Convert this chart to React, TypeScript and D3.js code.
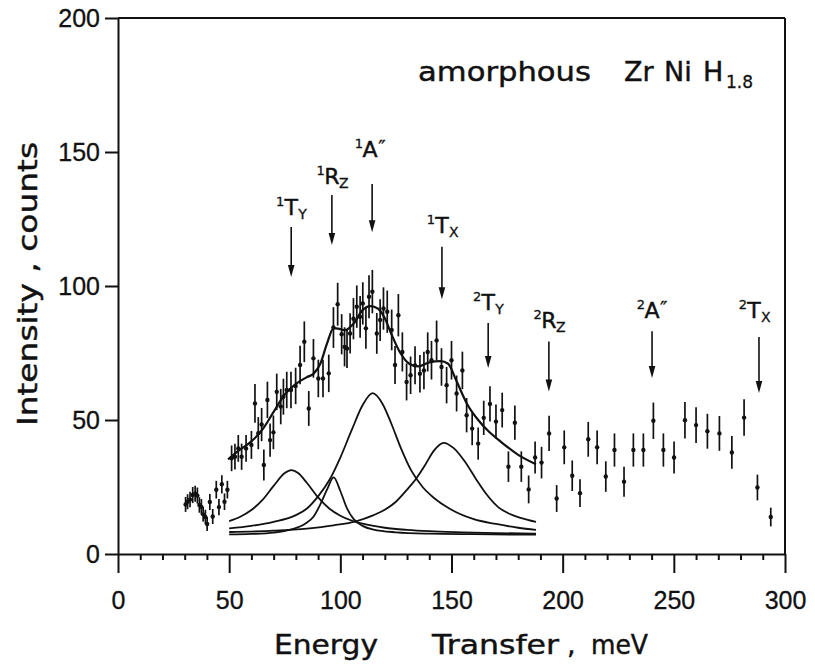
import React, { useRef, useEffect } from 'react';
import * as d3 from 'd3';

const energy = [
  30.4, 31.3, 32.4, 33.6, 34.7, 35.7, 36.6, 37.5, 38.3, 39.3, 40.1, 41.3, 42.6, 44.2, 45.4, 46.7, 47.9, 49.2,
  51.1, 52.6, 54.1, 55.6, 57.6, 60.0, 61.6, 63.1, 64.6, 65.6, 67.2, 68.4, 69.9, 71.4, 73.2, 74.4, 75.9, 77.8,
  79.9, 81.9, 83.8, 85.8, 87.9, 90.1, 92.2, 94.8, 96.9, 98.8, 100.6, 101.9, 103.0, 104.4, 105.9, 107.4, 108.9,
  110.1, 111.5, 112.9, 114.4, 116.4, 117.9, 119.4, 121.1, 123.1, 124.6, 126.1, 127.9, 129.8, 131.6, 133.6, 135.8,
  137.6, 139.3, 141.0, 143.3, 145.5, 147.8, 150.0, 152.3, 154.9, 156.8, 159.3, 162.0, 164.5, 167.3, 170.0, 172.8,
  175.6, 178.5, 181.4, 184.7, 187.6, 190.5, 193.9, 197.3, 200.7, 204.3, 207.8, 211.5, 215.5, 219.4, 223.3, 227.6,
  231.8, 236.3, 240.8, 245.3, 250.1, 255.0, 260.0, 265.1, 270.5, 276.1, 281.6, 287.6, 293.6
];
const counts = [
  18.5, 19.5, 20.3, 22.0, 22.5, 21.8, 18.3, 17.6, 14.8, 13.8, 11.2, 19.4, 14.0, 24.0, 17.5, 26.0, 19.5, 24.0,
  35.7, 36.3, 39.4, 36.3, 39.4, 40.7, 56.2, 45.1, 48.3, 33.2, 57.5, 42.5, 45.4, 60.5, 55.0, 58.7, 61.2, 61.2,
  62.7, 70.5, 79.2, 54.3, 73.0, 65.5, 65.5, 67.4, 84.5, 93.2, 82.0, 77.3, 76.7, 82.3, 87.8, 92.3, 88.5,
  93.5, 84.2, 96.0, 97.9, 82.3, 87.3, 91.6, 90.4, 83.6, 70.5, 89.1, 75.4, 64.2, 66.7, 70.4, 67.3,
  68.5, 75.4, 72.3, 79.7, 69.8, 63.0, 72.3, 59.9, 68.5, 51.8, 46.8, 41.2, 50.8, 56.0, 49.4, 53.7,
  32.6, 49.0, 32.6, 24.1, 36.0, 34.1, 45.0, 20.7, 39.8, 29.2, 22.7, 42.8, 39.8, 28.9, 38.8, 27.0,
  38.8, 38.8, 49.7, 38.8, 36.0, 49.9, 48.1, 45.8, 45.0, 37.9, 50.9, 24.8, 13.8
];
const errors = [
  2.8, 2.8, 2.9, 3.0, 3.0, 3.0, 2.9, 2.9, 2.7, 2.7, 2.6, 3.0, 2.8, 3.3, 3.0, 3.4, 3.1, 3.3,
  4.8, 4.8, 5.0, 4.9, 5.0, 5.2, 7.2, 6.0, 6.2, 5.8, 6.8, 6.2, 6.3, 6.8, 6.6, 6.7, 6.8, 6.8,
  6.8, 7.2, 7.6, 6.5, 7.2, 7.0, 7.0, 7.0, 7.6, 8.0, 7.5, 7.3, 7.3, 7.5, 7.7, 7.9, 7.8,
  7.9, 7.6, 8.0, 8.1, 7.6, 7.8, 7.9, 7.9, 7.6, 7.1, 7.9, 7.3, 6.9, 7.0, 7.1, 7.0,
  7.0, 7.3, 7.2, 7.4, 7.0, 6.8, 7.2, 6.7, 7.0, 6.4, 6.2, 6.0, 6.4, 6.6, 6.4, 6.5,
  5.7, 6.4, 5.7, 5.2, 6.0, 5.9, 6.6, 5.0, 6.3, 5.7, 5.2, 6.5, 6.3, 5.7, 6.2, 5.6,
  6.2, 6.2, 6.8, 6.2, 6.0, 6.8, 6.7, 6.5, 6.5, 6.1, 6.8, 4.8, 3.5
];

// total fit
const fitE = [49.5, 55, 60, 65, 70, 75, 80, 85, 88, 91, 94, 97, 99.5, 102, 106, 110, 113.5, 117, 120, 123, 127, 131, 135, 140, 145, 148.5, 152, 157, 162, 167, 172, 180, 188];
const fitI = [35.3, 39, 42, 46.5, 53, 59.5, 63.5, 66, 67.3, 71, 78.5, 84.3, 84, 83.5, 86, 91, 92.5, 91.5, 88, 82, 75, 71, 70, 71.5, 72, 71, 65, 56, 50, 45.5, 42, 37, 33.5];

// fitted components
const tyE = [50, 55, 60, 65, 70, 75, 78, 81, 85, 90, 95, 100, 105, 110, 120, 130, 140, 155, 170, 188];
const tyI = [12.3, 13.9, 16.4, 20.2, 25.4, 30.2, 31.3, 30.2, 26.5, 21.1, 17, 14.3, 12.5, 11.3, 9.8, 9, 8.5, 8.1, 7.8, 7.6];
const rzE = [50, 60, 70, 78, 84, 88, 91, 94, 97, 100, 103, 106, 110, 115, 125, 140, 160, 188];
const rzI = [7.3, 7.5, 8.0, 9.2, 11.2, 14, 18.5, 24, 28.6, 23.5, 17, 13, 10.5, 9.1, 8.1, 7.6, 7.4, 7.2];
const aE = [50, 60, 70, 80, 85, 90, 95, 100, 105, 110, 114.5, 119, 123, 127, 132, 137, 142, 150, 160, 170, 180, 188];
const aI = [9.6, 10.5, 12, 14.5, 17, 21.5, 27.5, 36, 46, 55.5, 60, 56, 48.5, 40, 31, 25, 21, 16.5, 13, 11.2, 9.8, 9];
const txE = [50, 70, 85, 97, 107, 115, 120, 125, 130, 134, 138, 142, 146.5, 151, 156, 161, 166, 171, 176, 181, 188];
const txI = [8.2, 8.7, 9.5, 10.7, 12.2, 14.5, 16.5, 19.5, 24, 28, 33, 38.5, 41.5, 39.5, 34.5, 28, 22, 17.5, 15, 13.5, 12];

// mode assignments
const modeOrder = ['1', '1', '1', '1', '2', '2', '2', '2'];
const modeName = ['T', 'R', 'A', 'T', 'T', 'R', 'A', 'T'];
const modeSub = ['Y', 'Z', '', 'X', 'Y', 'Z', '', 'X'];
const modeE = [77.9, 96.2, 114.3, 145.7, 166.5, 193.8, 240.2, 288.3];
const arrowTop = [122, 134, 138.1, 114.6, 86.2, 79.3, 83.1, 81];
const arrowTip = [103.4, 115.3, 120.1, 95.1, 69.4, 60.6, 65.7, 60.1];
const labelLevel = [126.5, 138.2, 148.3, 119.6, 91, 84.3, 88.1, 88.1];

const xTicks = [0, 50, 100, 150, 200, 250, 300];
const yTicks = [0, 50, 100, 150, 200];

function Spectrum() {
  const svgRef = useRef(null);

  useEffect(() => {
    const svg = d3.select(svgRef.current);
    svg.selectAll('*').remove();

    const x = d3.scaleLinear().domain([0, 300]).range([118, 785]);
    const y = d3.scaleLinear().domain([0, 200]).range([554, 18]);

    const font = "'DejaVu Sans', sans-serif";
    const numFont = "'Liberation Sans', Arial, sans-serif";
    const ink = '#111';

    // heavier text like the scanned original
    const txt = (sel, size) => sel
      .attr('font-family', font).attr('font-size', size).attr('fill', ink)
      .attr('stroke', ink).attr('stroke-width', 0.45);

    // frame top + right
    svg.append('line')
      .attr('x1', x(0)).attr('x2', x(300)).attr('y1', y(200)).attr('y2', y(200))
      .attr('stroke', ink).attr('stroke-width', 2);
    svg.append('line')
      .attr('x1', x(300)).attr('x2', x(300)).attr('y1', y(200)).attr('y2', y(0))
      .attr('stroke', ink).attr('stroke-width', 2);

    // x axis, major + minor ticks hanging down
    const xAxis = svg.append('g')
      .attr('transform', `translate(0,${y(0)})`)
      .call(d3.axisBottom(x).tickValues(xTicks).tickSize(19).tickSizeOuter(0).tickPadding(18));
    svg.append('g')
      .attr('transform', `translate(0,${y(0)})`)
      .call(d3.axisBottom(x).tickValues(d3.range(10, 300, 10).filter(v => v % 50 !== 0)).tickSize(6).tickSizeOuter(0).tickFormat(() => ''))
      .call(g => g.select('.domain').remove());

    const yAxis = svg.append('g')
      .attr('transform', `translate(${x(0)},0)`)
      .call(d3.axisLeft(y).tickValues(yTicks).tickSize(13).tickSizeOuter(0).tickPadding(5));

    [xAxis, yAxis].forEach(a => {
      a.selectAll('path, line').attr('stroke', ink).attr('stroke-width', 2);
      a.selectAll('text').attr('fill', ink).attr('font-family', numFont).attr('font-size', 25)
        .attr('stroke', ink).attr('stroke-width', 0.3);
    });
    svg.selectAll('.tick line').attr('stroke', ink).attr('stroke-width', 2);

    // axis titles
    txt(svg.append('text'), 27)
      .attr('transform', `translate(37,284) rotate(-90)`)
      .attr('text-anchor', 'middle')
      .attr('textLength', 284).attr('lengthAdjust', 'spacingAndGlyphs')
      .text('Intensity , counts');

    const xt = [['Energy', 274, 104], ['Transfer', 432, 127], [',', 567, 0], ['meV', 591, 57]];
    xt.forEach(([t, px, w]) => {
      const el = txt(svg.append('text'), 27)
        .attr('x', px).attr('y', 654)
        .text(t);
      if (w) el.attr('textLength', w).attr('lengthAdjust', 'spacingAndGlyphs');
    });

    // sample title
    txt(svg.append('text'), 27)
      .attr('x', 418).attr('y', 81)
      .attr('textLength', 173).attr('lengthAdjust', 'spacingAndGlyphs')
      .text('amorphous');
    [['Zr', 624], ['Ni', 664], ['H', 703]].forEach(([t, px]) => {
      txt(svg.append('text'), 27).attr('x', px).attr('y', 81).text(t);
    });
    txt(svg.append('text'), 17)
      .attr('x', 726).attr('y', 88)
      .attr('stroke-width', 0.3)
      .text('1.8');

    // fit curves
    const line = d3.line().x(d => x(d[0])).y(d => y(d[1])).curve(d3.curveMonotoneX);
    const comps = [[tyE, tyI], [rzE, rzI], [aE, aI], [txE, txI]];
    comps.forEach(([es, is]) => {
      svg.append('path')
        .datum(es.map((e, i) => [e, is[i]]))
        .attr('d', line)
        .attr('fill', 'none').attr('stroke', ink).attr('stroke-width', 1.8);
    });
    svg.append('path')
      .datum(fitE.map((e, i) => [e, fitI[i]]))
      .attr('d', line)
      .attr('fill', 'none').attr('stroke', ink).attr('stroke-width', 2.2);

    // data with error bars
    const pts = svg.append('g');
    energy.forEach((e, i) => {
      pts.append('line')
        .attr('x1', x(e)).attr('x2', x(e))
        .attr('y1', y(counts[i] - errors[i])).attr('y2', y(counts[i] + errors[i]))
        .attr('stroke', ink).attr('stroke-width', 1.7);
      pts.append('circle')
        .attr('cx', x(e)).attr('cy', y(counts[i])).attr('r', 2.2)
        .attr('fill', ink);
    });

    // mode arrows and labels
    modeE.forEach((e, i) => {
      const ax = x(e);
      const top = y(arrowTop[i]);
      const tip = y(arrowTip[i]);
      svg.append('line')
        .attr('x1', ax).attr('x2', ax).attr('y1', top).attr('y2', tip - 4)
        .attr('stroke', ink).attr('stroke-width', 1.6);
      svg.append('path')
        .attr('d', `M${ax - 3.3},${tip - 12} L${ax},${tip} L${ax + 3.3},${tip - 12} Z`)
        .attr('fill', ink);

      const lx = ax + (i === 7 ? -5 : i === 2 ? -2 : 0);
      const ly = y(labelLevel[i]);
      txt(svg.append('text'), 22)
        .attr('x', lx).attr('y', ly).attr('text-anchor', 'middle')
        .text(modeName[i]);
      txt(svg.append('text'), 13)
        .attr('x', lx - 7).attr('y', ly - 9).attr('text-anchor', 'end')
        .attr('stroke-width', 0.3)
        .text(modeOrder[i]);
      if (modeSub[i]) {
        txt(svg.append('text'), 14)
          .attr('x', lx + 7).attr('y', ly + 4)
          .attr('stroke-width', 0.3)
          .text(modeSub[i]);
      } else {
        txt(svg.append('text'), 20)
          .attr('x', lx + 8).attr('y', ly - 3)
          .attr('stroke-width', 0.3)
          .text('\u2033');
      }
    });
  }, []);

  return (
    <svg ref={svgRef} width={815} height={665}
      style={{ position: 'absolute', left: 0, top: 0, background: '#fff' }} />
  );
}

export default function App() {
  return <Spectrum />;
}
